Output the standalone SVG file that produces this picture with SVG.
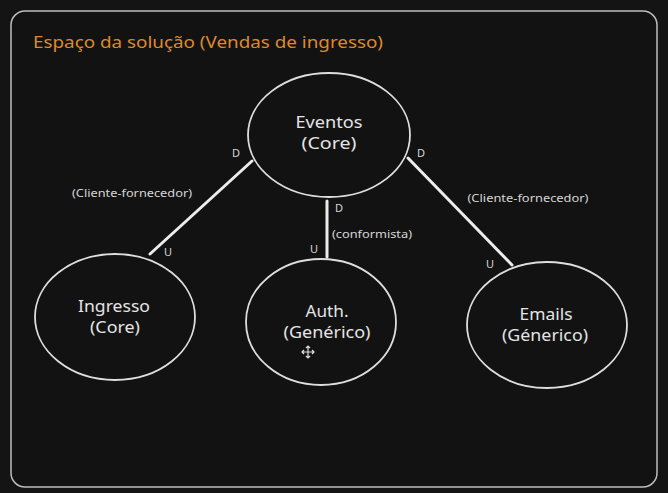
<svg xmlns="http://www.w3.org/2000/svg" width="668" height="493" viewBox="0 0 668 493">
<style>
.node ellipse{fill:none;stroke:#dedede;stroke-width:1.8}
.nt{font-family:"Noto Sans","DejaVu Sans",sans-serif;font-size:16px;fill:#e4e4e4;text-anchor:middle}
.lbl{font-family:"Noto Sans","DejaVu Sans",sans-serif;font-size:11px;fill:#d6d6d6;text-anchor:middle}
.conn line{stroke:#ececec;stroke-width:3;stroke-linecap:round}
</style>
<rect x="0" y="0" width="668" height="493" fill="#141414"/>
<rect id="frame" x="11" y="11" width="646" height="476" rx="14" fill="#121212" stroke="#bdbdbd" stroke-width="1.5"/>
<text id="title" x="33" y="48" textLength="350" lengthAdjust="spacingAndGlyphs" style="font-family:'Noto Sans','DejaVu Sans',sans-serif;font-size:16px;fill:#de8a2c">Espaço da solução (Vendas de ingresso)</text>

<g id="connectors" class="conn">
<line x1="252" y1="161" x2="150" y2="254"/>
<line x1="327" y1="201" x2="327" y2="257"/>
<line x1="408" y1="158" x2="512" y2="265"/>
</g>
<g id="labels">
<text class="lbl" x="236" y="157">D</text>
<text class="lbl" x="168" y="256">U</text>
<text class="lbl" x="132" y="197" textLength="120" lengthAdjust="spacingAndGlyphs">(Cliente-fornecedor)</text>
<text class="lbl" x="339" y="212">D</text>
<text class="lbl" x="314" y="253">U</text>
<text class="lbl" x="372" y="238" textLength="80" lengthAdjust="spacingAndGlyphs">(conformista)</text>
<text class="lbl" x="421" y="157">D</text>
<text class="lbl" x="490" y="268">U</text>
<text class="lbl" x="528" y="202" textLength="121" lengthAdjust="spacingAndGlyphs">(Cliente-fornecedor)</text>
</g>

<g id="eventos" class="node">
<ellipse cx="329" cy="135" rx="81" ry="62"/>
<text class="nt" x="329" y="128" textLength="67" lengthAdjust="spacingAndGlyphs">Eventos</text>
<text class="nt" x="329" y="149" textLength="55" lengthAdjust="spacingAndGlyphs">(Core)</text>
</g>
<g id="ingresso" class="node">
<ellipse cx="115" cy="317" rx="80" ry="63"/>
<text class="nt" x="114" y="312" textLength="72" lengthAdjust="spacingAndGlyphs">Ingresso</text>
<text class="nt" x="115" y="333" textLength="50" lengthAdjust="spacingAndGlyphs">(Core)</text>
</g>
<g id="auth" class="node">
<ellipse cx="321" cy="322" rx="75" ry="63"/>
<text class="nt" x="327" y="317" textLength="43" lengthAdjust="spacingAndGlyphs">Auth.</text>
<text class="nt" x="327" y="338" textLength="87" lengthAdjust="spacingAndGlyphs">(Genérico)</text>
</g>
<g id="emails" class="node">
<ellipse cx="547" cy="325" rx="80" ry="63"/>
<text class="nt" x="546" y="320" textLength="53" lengthAdjust="spacingAndGlyphs">Emails</text>
<text class="nt" x="545" y="341" textLength="86" lengthAdjust="spacingAndGlyphs">(Génerico)</text>
</g>
<g id="cursor" stroke="#dcdcdc" stroke-width="1.2" fill="none">
<path d="M308 346 V358 M302 352 H314 M306 348 L308 346 L310 348 M306 356 L308 358 L310 356 M304 350 L302 352 L304 354 M312 350 L314 352 L312 354"/>
</g>
</svg>
